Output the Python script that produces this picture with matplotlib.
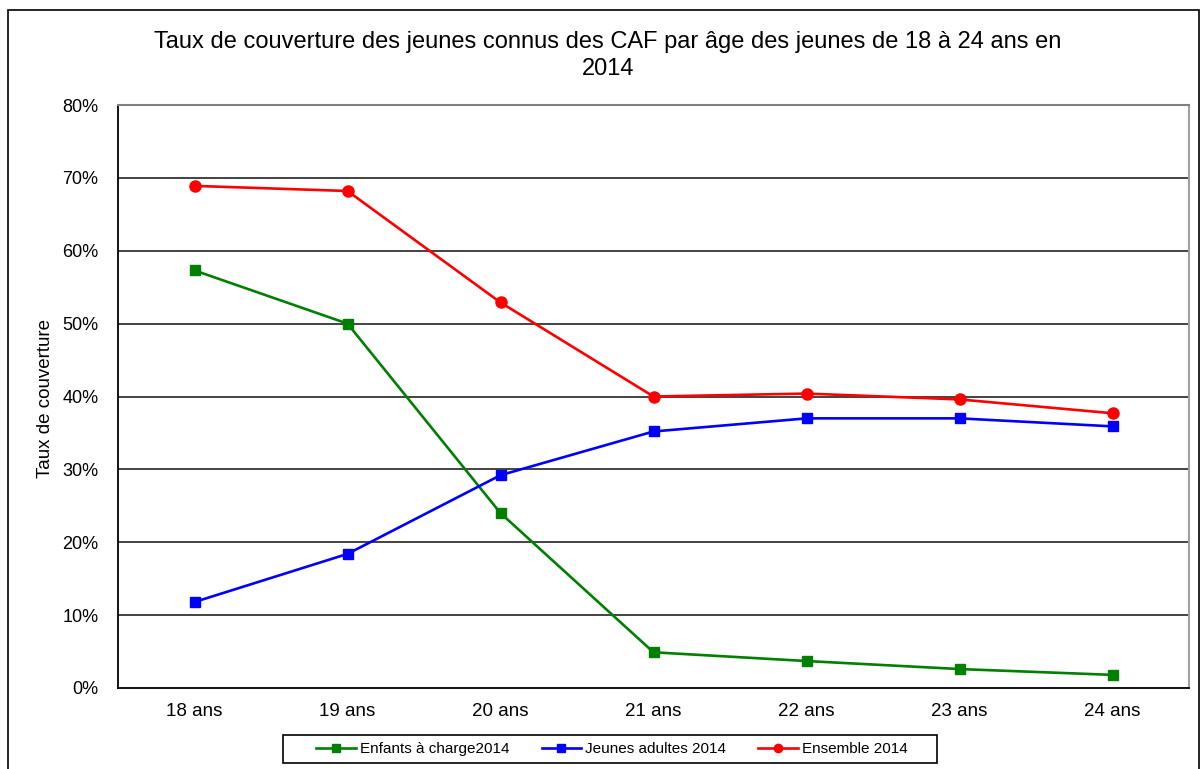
import matplotlib
matplotlib.use("Agg")
import matplotlib.pyplot as plt
from matplotlib.patches import Rectangle
from matplotlib.ticker import FuncFormatter

plt.rcParams['font.family'] = ['Liberation Sans', 'DejaVu Sans']

categories = ["18 ans", "19 ans", "20 ans", "21 ans", "22 ans", "23 ans", "24 ans"]
enfants = [57.3, 50.0, 24.0, 4.9, 3.7, 2.6, 1.8]
jeunes = [11.8, 18.4, 29.2, 35.2, 37.0, 37.0, 35.9]
ensemble = [68.9, 68.2, 52.9, 40.0, 40.4, 39.6, 37.7]
series_labels = ["Enfants à charge2014", "Jeunes adultes 2014", "Ensemble 2014"]
title_line1 = "Taux de couverture des jeunes connus des CAF par âge des jeunes de 18 à 24 ans en"
title_line2 = "2014"
ylabel = "Taux de couverture"

W, H = 1201, 769
fig = plt.figure(figsize=(W / 100, H / 100), dpi=100)
ax = fig.add_axes([118 / W, 1 - 688 / H, (1189 - 118) / W, (688 - 105) / H])

x = list(range(len(categories)))
ax.plot(x, enfants, color="#008000", lw=1.9, marker="s", ms=7.5, label=series_labels[0], zorder=3)
ax.plot(x, jeunes, color="#0000FF", lw=1.9, marker="s", ms=7.5, label=series_labels[1], zorder=3)
ax.plot(x, ensemble, color="#FF0000", lw=1.9, marker="o", ms=8, label=series_labels[2], zorder=3)

ax.set_xlim(-0.5, len(categories) - 0.5)
ax.set_ylim(0, 80)
ax.set_yticks(range(0, 81, 10))
ax.yaxis.set_major_formatter(FuncFormatter(lambda v, p: f"{int(v)}%"))
ax.set_xticks(x)
ax.set_xticklabels(categories)
ax.tick_params(axis="both", length=0, labelsize=13.5, colors="black")
ax.tick_params(axis="x", pad=11)
ax.tick_params(axis="y", pad=14, labelsize=13)
for v in range(10, 80, 10):
    ax.axhline(v, color="#222222", lw=1.2, zorder=1)

ax.spines["left"].set_color("black")
ax.spines["bottom"].set_color("black")
ax.spines["left"].set_linewidth(1.3)
ax.spines["bottom"].set_linewidth(1.3)
ax.spines["top"].set_color("#808080")
ax.spines["right"].set_color("#a0a0a0")
ax.spines["top"].set_linewidth(1.5)
ax.spines["right"].set_linewidth(1.5)

fig.text(45 / W, 1 - 399 / H, ylabel, rotation=90, ha="center", va="center", fontsize=13.5)
fig.text(608 / W, 1 - 42 / H, title_line1, ha="center", va="center", fontsize=17)
fig.text(608 / W, 1 - 69 / H, title_line2, ha="center", va="center", fontsize=17)

leg = fig.legend(loc="center", bbox_to_anchor=(612 / W, 1 - 749 / H), ncol=3,
                 fontsize=11, frameon=False,
                 handlelength=2.6, columnspacing=2.1, borderpad=0.2, handletextpad=0.25,
                 markerscale=0.75)

fig.patches.append(Rectangle((283 / W, 1 - 763 / H), (937 - 283) / W, 28 / H, transform=fig.transFigure,
                             fill=False, edgecolor="black", lw=1.2, zorder=0))
fig.patches.append(Rectangle((8 / W, -0.05), (1199 - 8) / W, 1.05 - 10 / H, transform=fig.transFigure,
                             fill=False, edgecolor="black", lw=1.2, zorder=0))

fig.savefig("out.png", dpi=100)
